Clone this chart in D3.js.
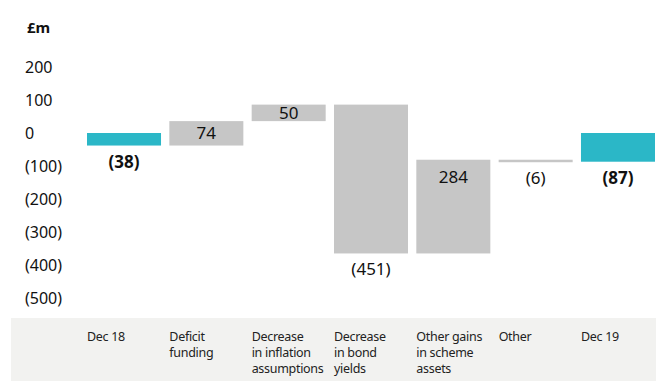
<!DOCTYPE html>
<html>
<head>
<meta charset="utf-8">
<script src="https://cdn.jsdelivr.net/npm/d3@7"></script>
<style>
  html, body { margin: 0; padding: 0; background: #fff; }
  svg { display: block; font-family: "Noto Sans", "Open Sans", sans-serif; }
</style>
</head>
<body>
<svg id="chart" width="656" height="381"></svg>
<script>
// Pension deficit bridge, Dec 18 to Dec 19 (£m)
const categories = [
  ["Dec 18"],
  ["Deficit", "funding"],
  ["Decrease", "in inflation", "assumptions"],
  ["Decrease", "in bond", "yields"],
  ["Other gains", "in scheme", "assets"],
  ["Other"],
  ["Dec 19"]
];
const changes = [-38, 74, 50, -451, 284, -6, -87];
const isTotal = [true, false, false, false, false, false, true];
const tickValues = [200, 100, 0, -100, -200, -300, -400, -500];

const fmt = v => v < 0 ? "(" + Math.abs(v) + ")" : String(v);

// running start/end for each step; totals start from zero
let running = 0;
const bars = changes.map((v, i) => {
  let start, end;
  if (isTotal[i]) { start = 0; end = v; running = v; }
  else { start = running; end = running + v; running = end; }
  return { i, value: v, start, end, total: isTotal[i], label: categories[i] };
});

const svg = d3.select("#chart");

const x = d3.scaleBand()
  .domain(d3.range(categories.length))
  .range([87, 655])
  .paddingInner(0.101)
  .paddingOuter(0);

const y = d3.scaleLinear().domain([-500, 200]).range([298, 67]);

// category band behind the labels
svg.append("rect")
  .attr("x", 11).attr("y", 318)
  .attr("width", 645).attr("height", 63)
  .attr("fill", "#f2f2f0");

// unit label
svg.append("text")
  .attr("x", 27).attr("y", 33)
  .attr("font-size", 15).attr("font-weight", 700)
  .attr("fill", "#111")
  .text("£m");

// y axis: labels only
const yAxis = d3.axisLeft(y).tickValues(tickValues).tickSize(0).tickFormat(fmt);
const ag = svg.append("g").attr("transform", "translate(25,0)").call(yAxis);
ag.select(".domain").remove();
ag.selectAll("text")
  .attr("x", 0).attr("text-anchor", "start")
  .attr("font-size", 16).attr("font-family", '"Noto Sans", sans-serif')
  .attr("fill", "#111");

// bars
svg.selectAll("rect.bar")
  .data(bars)
  .join("rect")
  .attr("class", "bar")
  .attr("x", d => x(d.i))
  .attr("width", x.bandwidth())
  .attr("y", d => y(Math.max(d.start, d.end)))
  .attr("height", d => Math.max(2.5, Math.abs(y(d.start) - y(d.end))))
  .attr("fill", d => d.total ? "#2bb7c7" : "#c6c6c6");

// value labels: inside near the top for increases, below the bar for decreases
svg.selectAll("text.val")
  .data(bars)
  .join("text")
  .attr("class", "val")
  .attr("x", d => x(d.i) + x.bandwidth() / 2)
  .attr("y", d => {
    const top = y(Math.max(d.start, d.end));
    const bot = y(Math.min(d.start, d.end));
    const h = bot - top;
    if (d.value > 0) return top + Math.min(23, h / 2 + 6);
    return Math.max(bot, top + 2.5) + 22;
  })
  .attr("text-anchor", "middle")
  .attr("font-size", 17)
  .attr("font-weight", d => d.total ? 700 : 400)
  .attr("fill", "#111")
  .text(d => fmt(d.value));

// category labels
const cg = svg.selectAll("text.cat")
  .data(bars)
  .join("text")
  .attr("class", "cat")
  .attr("x", d => x(d.i))
  .attr("y", 341)
  .attr("font-size", 12.5)
  .attr("letter-spacing", -0.3)
  .attr("fill", "#222");
cg.selectAll("tspan")
  .data(d => d.label.map(t => ({ t, x: x(d.i) })))
  .join("tspan")
  .attr("x", d => d.x)
  .attr("dy", (d, j) => j === 0 ? 0 : 16)
  .text(d => d.t);
</script>
</body>
</html>
